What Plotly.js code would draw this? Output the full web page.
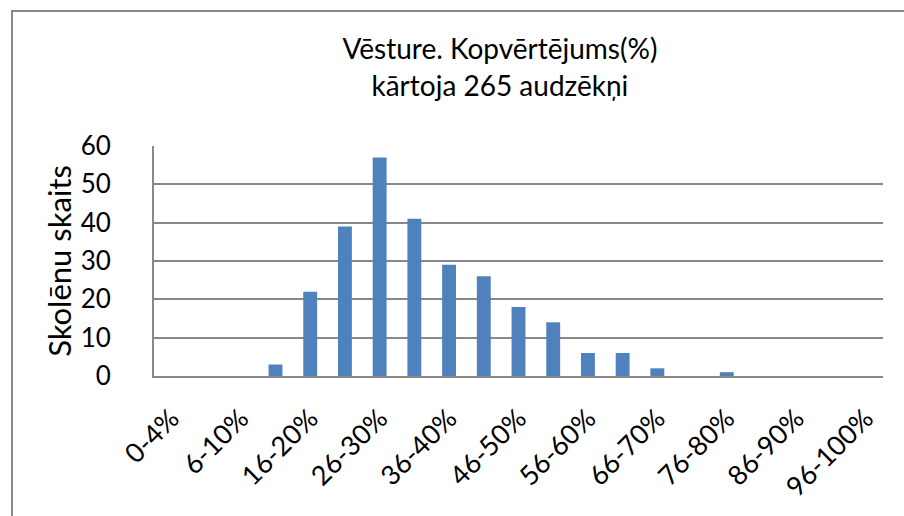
<!DOCTYPE html>
<html>
<head>
<meta charset="utf-8">
<script src="https://cdn.plot.ly/plotly-3.0.1.min.js"></script>
<style>
html,body{margin:0;padding:0;background:#fff;}
#wrap{position:relative;width:904px;height:516px;overflow:hidden;}
#chart{width:904px;height:516px;}
#frame{position:absolute;left:11px;top:10px;width:1000px;height:1000px;border-left:2px solid #888;border-top:2px solid #888;pointer-events:none;}
</style>
</head>
<body>
<div id="wrap"><div id="chart"></div><div id="frame"></div></div>
<script>
const categories = ["0-4%","5%","6-10%","11-15%","16-20%","21-25%","26-30%","31-35%","36-40%","41-45%","46-50%","51-55%","56-60%","61-65%","66-70%","71-75%","76-80%","81-85%","86-90%","91-95%","96-100%"];
const students = [0,0,0,3,22,39,57,41,29,26,18,14,6,6,2,0,1,0,0,0,0];
const shownTicks = ["0-4%","6-10%","16-20%","26-30%","36-40%","46-50%","56-60%","66-70%","76-80%","86-90%","96-100%"];
const titleText = "Vēsture. Kopvērtējums(%)<br>kārtoja 265 audzēkņi";
const yTitle = "Skolēnu skaits";

const FONT = "Lato, 'Open Sans', sans-serif";
const L = 154, R = 21, T = 146, B = 140;

const trace = {
  type: 'bar',
  x: categories,
  y: students,
  marker: {color: '#4F81BD', line: {width: 0}},
  hoverinfo: 'x+y'
};

const layout = {
  width: 904, height: 516,
  margin: {l: L, r: R, t: T, b: B, pad: 0},
  paper_bgcolor: '#fff', plot_bgcolor: '#fff',
  bargap: 0.6,
  showlegend: false,
  font: {family: FONT, color: '#000'},
  title: {text: titleText, font: {family: FONT, size: 28, color: '#000'}, x: 0.553, xanchor: 'center', y: 0.885, yanchor: 'top'},
  xaxis: {
    type: 'category',
    categoryorder: 'array', categoryarray: categories,
    tickmode: 'array', tickvals: shownTicks, ticktext: shownTicks,
    tickangle: -45,
    tickfont: {family: FONT, size: 27, color: '#000'},
    showgrid: false,
    showline: true, linecolor: '#888', linewidth: 2,
    ticks: '', ticklabelstandoff: 14,
    range: [-0.5, 20.5]
  },
  yaxis: {
    range: [0, 60], dtick: 10, tick0: 0,
    showgrid: true, gridcolor: '#888', gridwidth: 2,
    showline: true, linecolor: '#888', linewidth: 2,
    zeroline: false,
    ticks: '', ticklabelstandoff: 36,
    tickfont: {family: FONT, size: 26, color: '#000'},
    title: {text: yTitle, font: {family: FONT, size: 31, color: '#000'}, standoff: 0}
  }
};

Plotly.newPlot('chart', [trace], layout, {displayModeBar: false, staticPlot: true});
</script>
</body>
</html>
